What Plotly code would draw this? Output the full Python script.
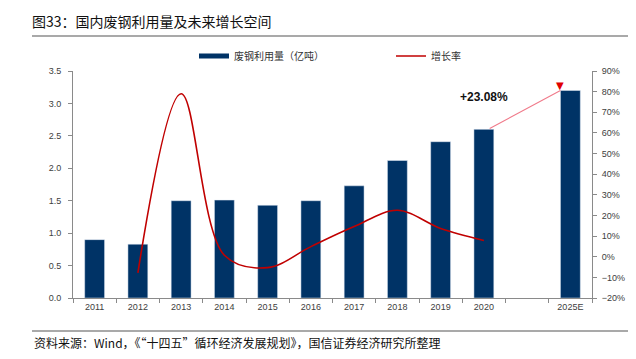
import plotly.graph_objects as go

# ---- data ----
categories = ["2011", "2012", "2013", "2014", "2015", "2016", "2017", "2018", "2019", "2020", " ", "2025E"]
scrap_usage = [0.90, 0.83, 1.50, 1.51, 1.43, 1.50, 1.73, 2.12, 2.41, 2.60, None, 3.20]
growth_rate = [None, -7.8, 79.0, 0.7, -5.3, 4.9, 14.6, 22.5, 13.7, 7.9, None, None]
left_ticks = [0.0, 0.5, 1.0, 1.5, 2.0, 2.5, 3.0, 3.5]
right_ticks = [-20, -10, 0, 10, 20, 30, 40, 50, 60, 70, 80, 90]
bar_name = "废钢利用量（亿吨）"
line_name = "增长率"
title_text = "图33：国内废钢利用量及未来增长空间"
source_text = "资料来源：Wind，《“十四五”循环经济发展规划》，国信证券经济研究所整理"
growth_label = "+23.08%"

NAVY = "#003366"
RED = "#C00000"
AXIS = "#8a8a8a"
TICKFONT = dict(family="Liberation Sans, Noto Sans CJK SC", size=9, color="#404040")
CJK = "Noto Sans CJK SC"

# page body has an 8px margin: figure pixel = page pixel - 8
OFF = 8
W, H = 636 - 2 * OFF, 359 - 2 * OFF
L = 73 - OFF
T = 71 - OFF
R = W - (592 - OFF)
B = H - (298 - OFF)
plot_h = H - T - B
plot_w = W - L - R


def py_to_paper(py_page):
    return (H - B - (py_page - OFF)) / plot_h


def px_to_paper(px_page):
    return ((px_page - OFF) - L) / plot_w


fig = go.Figure()

fig.add_trace(go.Bar(
    x=categories, y=scrap_usage, name=bar_name, marker_color=NAVY,
    width=0.46, showlegend=False, yaxis="y",
))
# legend entry for the bars (drawn as thick line like the original)
fig.add_trace(go.Scatter(
    x=[None], y=[None], mode="lines", name=bar_name,
    line=dict(color=NAVY, width=5), yaxis="y",
))
fig.add_trace(go.Scatter(
    x=categories, y=growth_rate, name=line_name, mode="lines",
    line=dict(color=RED, width=1.6, shape="spline", smoothing=1.0),
    connectgaps=False, yaxis="y2",
))

i_2020 = categories.index("2020")
i_2025 = categories.index("2025E")

annotations = [
    # pink connector from 2020 bar to 2025E bar
    dict(x=i_2025 - 0.23, y=scrap_usage[i_2025], ax=i_2020 + 0.1, ay=scrap_usage[i_2020],
         xref="x", yref="y", axref="x", ayref="y", text="", showarrow=True,
         arrowhead=0, arrowcolor="#F07a8a", arrowwidth=1.1, standoff=0, startstandoff=0),
    # red triangular arrow head
    dict(x=i_2025 - 0.23, y=scrap_usage[i_2025], xref="x", yref="y", text="▼",
         showarrow=False, yanchor="bottom", yshift=-3,
         font=dict(family="DejaVu Sans", size=10, color="#E00000")),
    dict(x=i_2020, y=scrap_usage[i_2020] + 0.50, xref="x", yref="y", text="<b>" + growth_label + "</b>",
         showarrow=False, font=dict(family="Liberation Sans, " + CJK, size=12, color="#111111")),
    dict(x=px_to_paper(32), y=py_to_paper(342), xref="paper", yref="paper", xanchor="left",
         yanchor="middle", text=source_text, showarrow=False,
         font=dict(family=CJK, size=12, color="#111111")),
]

shapes = [
    dict(type="line", xref="paper", yref="paper", x0=px_to_paper(32), x1=px_to_paper(628),
         y0=py_to_paper(36), y1=py_to_paper(36), line=dict(color="#8c8c8c", width=1.5)),
    dict(type="line", xref="paper", yref="paper", x0=px_to_paper(32), x1=px_to_paper(628),
         y0=py_to_paper(331), y1=py_to_paper(331), line=dict(color="#8c8c8c", width=1.5)),
]

fig.update_layout(
    width=W, height=H,
    margin=dict(l=L, r=R, t=T, b=B, pad=0, autoexpand=False),
    paper_bgcolor="white", plot_bgcolor="white",
    title=dict(text=title_text, x=(32 - OFF) / W, xanchor="left", xref="container",
               y=1 - (22 - OFF) / H, yanchor="middle", yref="container",
               font=dict(family=CJK, size=14, color="#111111")),
    legend=dict(orientation="h", xref="container", yref="container",
                x=186 / W, xanchor="left", y=1 - (56 - OFF) / H, yanchor="middle",
                entrywidth=152, entrywidthmode="pixels", itemwidth=30,
                font=dict(family=CJK, size=10, color="#333333"),
                bgcolor="rgba(0,0,0,0)", traceorder="normal"),
    bargap=0.5,
    xaxis=dict(type="category", categoryorder="array", categoryarray=categories,
               range=[-0.5, len(categories) - 0.5], tickson="boundaries",
               ticks="outside", ticklen=4, tickcolor=AXIS, showline=True, linecolor=AXIS,
               linewidth=1, showgrid=False, tickfont=TICKFONT, fixedrange=True),
    yaxis=dict(range=[0, 3.5], tickvals=left_ticks, ticktext=[f"{v:.1f}" for v in left_ticks],
               ticks="outside", ticklen=4, tickcolor=AXIS, showline=True, linecolor=AXIS,
               linewidth=1, showgrid=False, zeroline=False, tickfont=TICKFONT,
               ticklabelstandoff=5),
    yaxis2=dict(range=[-20, 90], overlaying="y", side="right", tickvals=right_ticks,
                ticktext=[(f"−{abs(v)}%" if v < 0 else f"{v}%") for v in right_ticks],
                ticks="outside", ticklen=4, tickcolor=AXIS, showline=True, linecolor=AXIS,
                linewidth=1, showgrid=False, zeroline=False, tickfont=TICKFONT,
                ticklabelstandoff=3),
    annotations=annotations,
    shapes=shapes,
)

fig.write_html("out.html")
